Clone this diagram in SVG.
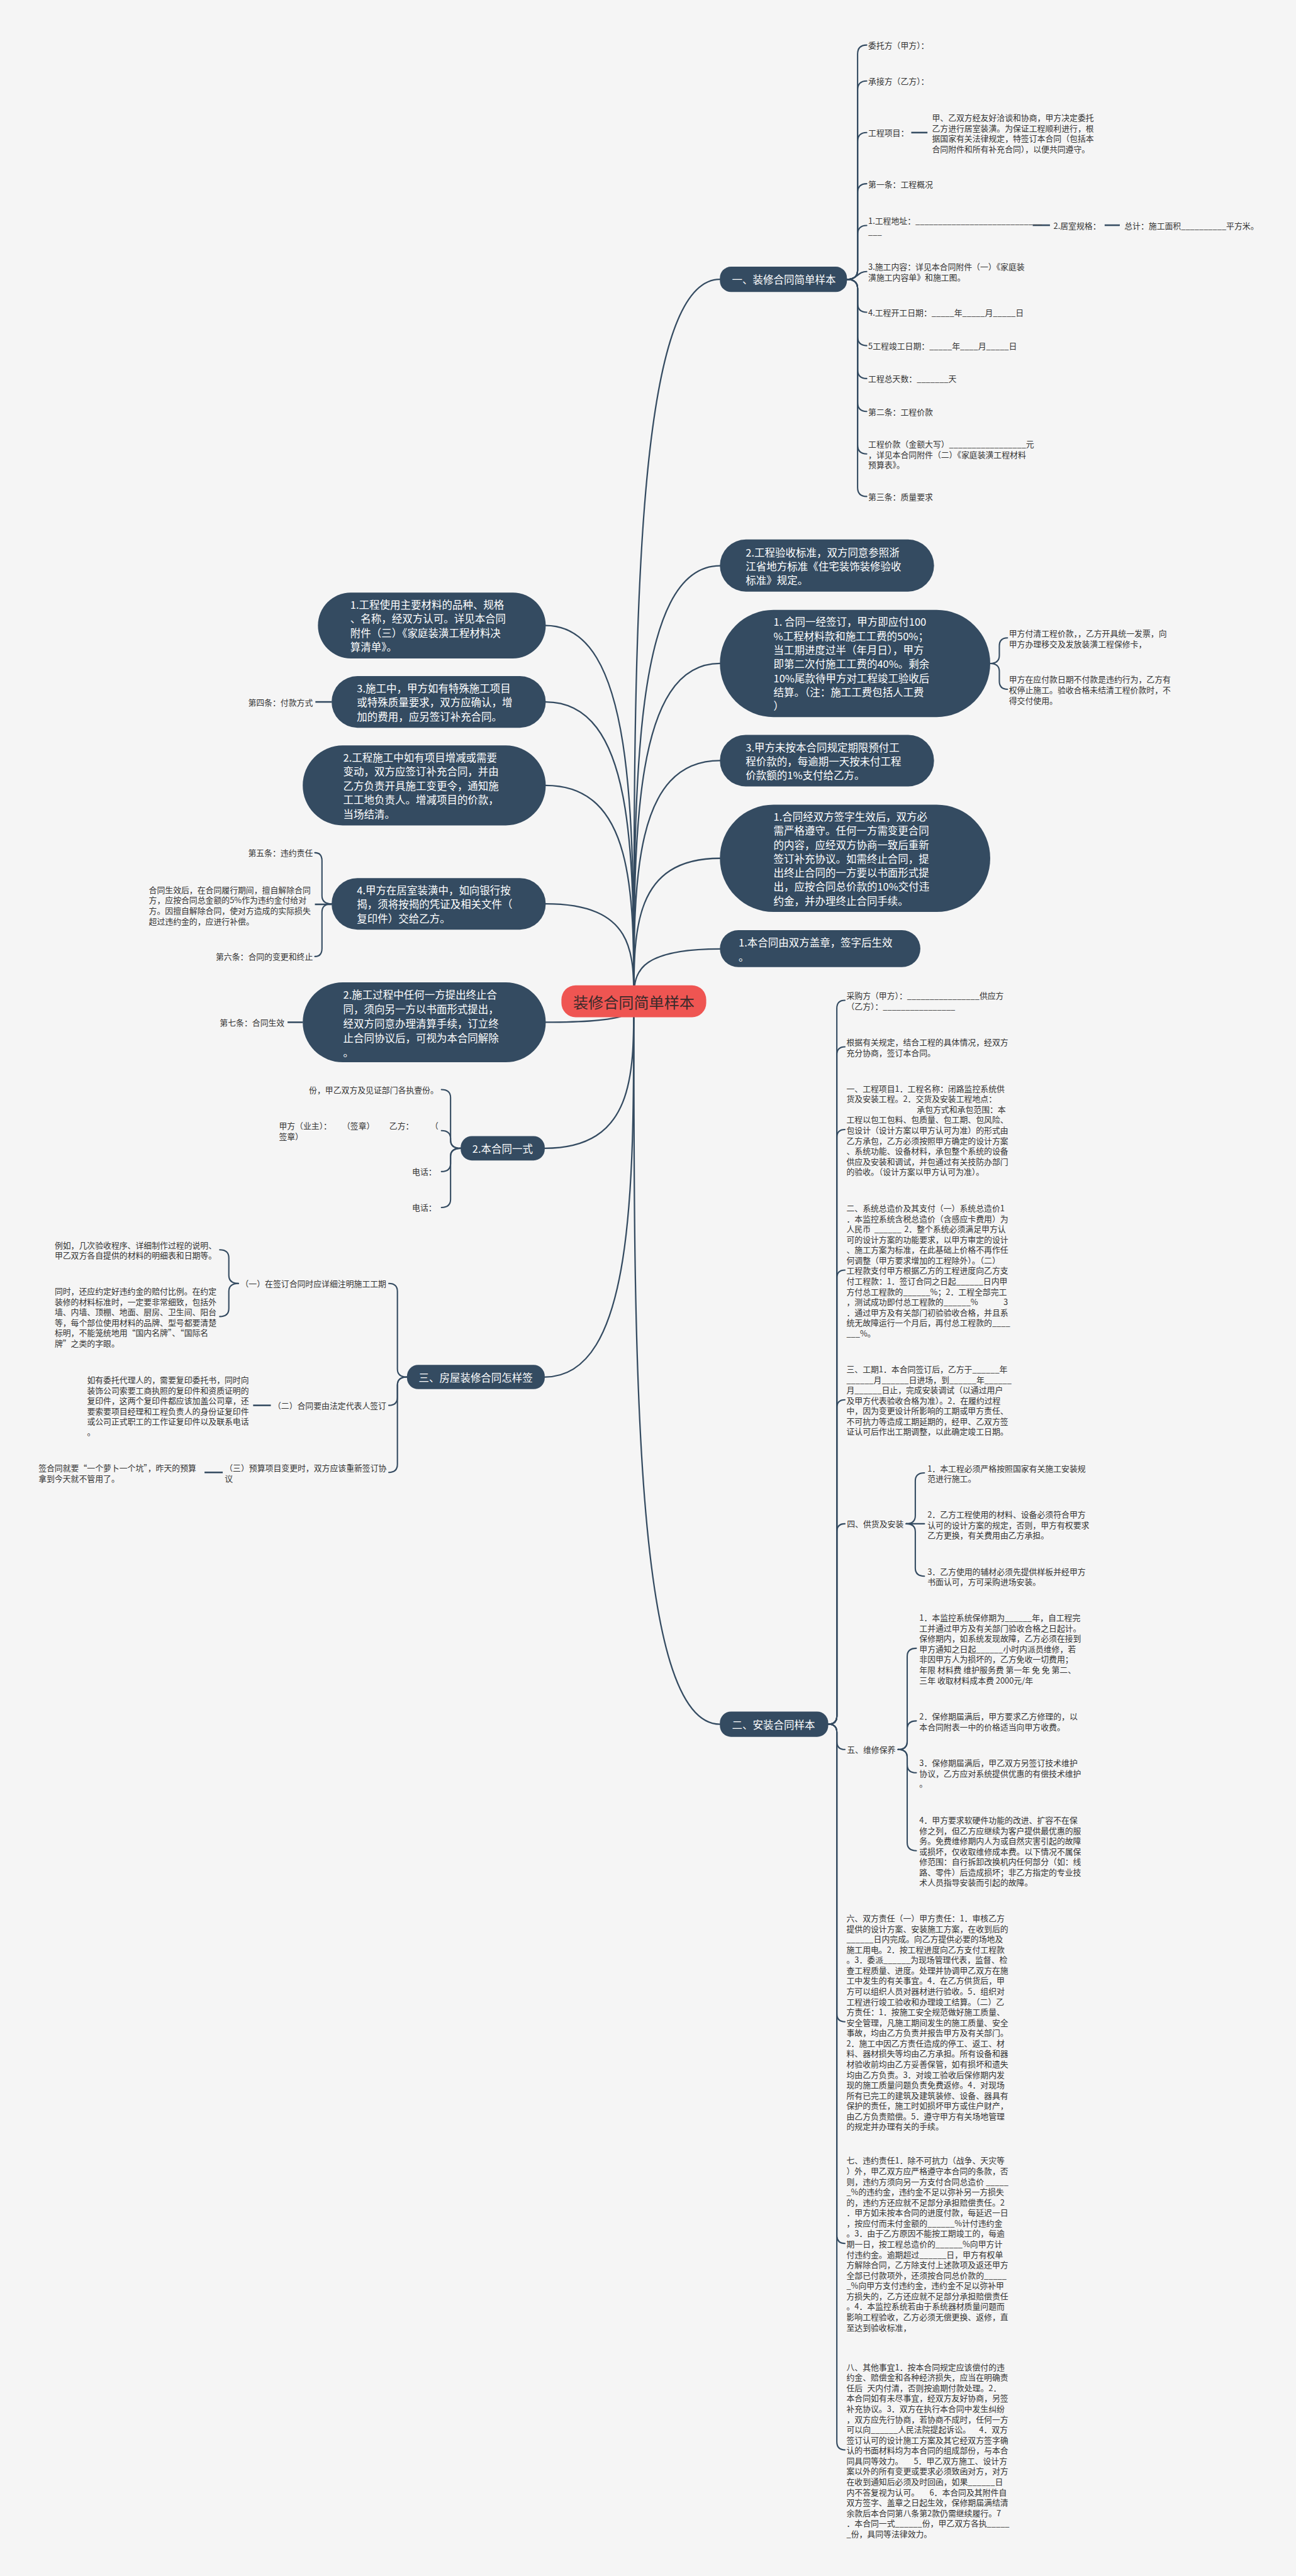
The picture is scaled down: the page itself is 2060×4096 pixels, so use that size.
<svg xmlns="http://www.w3.org/2000/svg" width="2060" height="4096" viewBox="0 0 2060 4096">
<style>
text{font-family:"Noto Sans CJK SC","Noto Sans",sans-serif;dominant-baseline:central}
.bg{fill:#f5f5f5}
.n{fill:#344b61}
.root{fill:#ef5552}
.rt{fill:#3a2a2a;font-size:30px}
.nt{fill:#ffffff;font-size:20.5px}
.t{fill:#333333;font-size:16px}
.c{fill:none;stroke:#344b61;stroke-width:2.8;stroke-linecap:round}
.s{fill:none;stroke:#344b61;stroke-width:2.6;stroke-linecap:round}
.st{fill:none;stroke:#344b61;stroke-width:3.2}
</style>
<rect class="bg" x="0" y="0" width="2060" height="4096"/>
<g transform="scale(0.8046875)">
<g id="connectors">
<path class="c" d="M1252,1979 C1252,1265.5 1252,552 1422,552"/>
<path class="c" d="M1252,1979 C1252,1548.5 1252,1118 1422,1118"/>
<path class="c" d="M1252,1979 C1252,1645 1252,1311 1422,1311"/>
<path class="c" d="M1252,1979 C1252,1741 1252,1503 1422,1503"/>
<path class="c" d="M1252,1979 C1252,1837.5 1252,1696 1422,1696"/>
<path class="c" d="M1252,1979 C1252,1927 1252,1875 1422,1875"/>
<path class="c" d="M1252,1979 C1252,2693 1252,3407 1422,3407"/>
<path class="c" d="M1252,1979 C1252,1607.5 1252,1236 1078,1236"/>
<path class="c" d="M1252,1979 C1252,1683 1252,1387 1078,1387"/>
<path class="c" d="M1252,1979 C1252,1765.5 1252,1552 1078,1552"/>
<path class="c" d="M1252,1979 C1252,1882.5 1252,1786 1078,1786"/>
<path class="c" d="M1252,1979 C1252,1999.5 1252,2020 1078,2020"/>
<path class="c" d="M1252,1979 C1252,2124 1252,2269 1076,2269"/>
<path class="c" d="M1252,1979 C1252,2350 1252,2721 1076,2721"/>
<!-- 一 children -->
<path class="s" d="M1673,552 Q1694,552 1694,534 L1694,107 Q1694,89 1712,89"/>
<path class="s" d="M1673,552 Q1694,552 1694,534 L1694,178 Q1694,160 1712,160"/>
<path class="s" d="M1673,552 Q1694,552 1694,534 L1694,280 Q1694,262 1712,262"/>
<path class="s" d="M1673,552 Q1694,552 1694,534 L1694,381 Q1694,363 1712,363"/>
<path class="s" d="M1673,552 Q1694,552 1694,534 L1694,463.5 Q1694,445.5 1712,445.5"/>
<path class="s" d="M1673,552 C1694,552 1694,536.5 1712,536.5"/>
<path class="s" d="M1673,552 Q1694,552 1694,570 L1694,599 Q1694,617 1712,617"/>
<path class="s" d="M1673,552 Q1694,552 1694,570 L1694,665 Q1694,683 1712,683"/>
<path class="s" d="M1673,552 Q1694,552 1694,570 L1694,730 Q1694,748 1712,748"/>
<path class="s" d="M1673,552 Q1694,552 1694,570 L1694,795 Q1694,813 1712,813"/>
<path class="s" d="M1673,552 Q1694,552 1694,570 L1694,879 Q1694,897 1712,897"/>
<path class="s" d="M1673,552 Q1694,552 1694,570 L1694,963 Q1694,981 1712,981"/>
<path class="st" d="M1800,262 H1832"/>
<path class="st" d="M2040,445 H2074"/>
<path class="st" d="M2182,445 H2212"/>
<!-- R1 children -->
<path class="s" d="M1956,1311 Q1974,1311 1974,1295 L1974,1276.5 Q1974,1260.5 1990,1260.5"/>
<path class="s" d="M1956,1311 Q1974,1311 1974,1327 L1974,1346 Q1974,1362 1990,1362"/>
<!-- 二 children -->
<path class="s" d="M1636,3407 Q1653,3407 1653,3391 L1653,1992.5 Q1653,1976.5 1669,1976.5"/>
<path class="s" d="M1636,3407 Q1653,3407 1653,3391 L1653,2084.5 Q1653,2068.5 1669,2068.5"/>
<path class="s" d="M1636,3407 Q1653,3407 1653,3391 L1653,2248 Q1653,2232 1669,2232"/>
<path class="s" d="M1636,3407 Q1653,3407 1653,3391 L1653,2525.6 Q1653,2509.6 1669,2509.6"/>
<path class="s" d="M1636,3407 Q1653,3407 1653,3391 L1653,2782 Q1653,2766 1669,2766"/>
<path class="s" d="M1636,3407 Q1653,3407 1653,3391 L1653,3027 Q1653,3011 1669,3011"/>
<path class="s" d="M1636,3407 Q1653,3407 1653,3423 L1653,3441 Q1653,3457 1669,3457"/>
<path class="s" d="M1636,3407 Q1653,3407 1653,3423 L1653,3979 Q1653,3995 1669,3995"/>
<path class="s" d="M1636,3407 Q1653,3407 1653,3423 L1653,4417 Q1653,4433 1669,4433"/>
<path class="s" d="M1636,3407 Q1653,3407 1653,3423 L1653,4825 Q1653,4841 1669,4841"/>
<!-- 四 children -->
<path class="s" d="M1790,3011 Q1808,3011 1808,2995 L1808,2926.5 Q1808,2910.5 1826,2910.5"/>
<path class="s" d="M1790,3011 H1826"/>
<path class="s" d="M1790,3011 Q1808,3011 1808,3027 L1808,3098.5 Q1808,3114.5 1826,3114.5"/>
<!-- 五 children -->
<path class="s" d="M1774,3457 Q1792,3457 1792,3441 L1792,3273 Q1792,3257 1810,3257"/>
<path class="s" d="M1774,3457 Q1792,3457 1792,3441 L1792,3416.5 Q1792,3400.5 1810,3400.5"/>
<path class="s" d="M1774,3457 Q1792,3457 1792,3473 L1792,3487 Q1792,3503 1810,3503"/>
<path class="s" d="M1774,3457 Q1792,3457 1792,3473 L1792,3641 Q1792,3657 1810,3657"/>
<!-- L4 children -->
<path class="s" d="M655,1786 Q636,1786 636,1770 L636,1701 Q636,1685 622,1685"/>
<path class="st" d="M655,1787 H622"/>
<path class="s" d="M655,1786 Q636,1786 636,1802 L636,1874 Q636,1890 622,1890"/>
<path class="st" d="M655,1387 H623"/>
<path class="st" d="M598,2020 H568"/>
<!-- 本合同一式 children -->
<path class="s" d="M910,2269 Q890,2269 890,2253 L890,2169 Q890,2153 872,2153"/>
<path class="s" d="M910,2269 Q890,2269 890,2253 L890,2250 Q890,2234 872,2234"/>
<path class="s" d="M910,2269 Q890,2269 890,2285 L890,2299 Q890,2315 872,2315"/>
<path class="s" d="M910,2269 Q890,2269 890,2285 L890,2370 Q890,2386 872,2386"/>
<!-- 三 children -->
<path class="s" d="M804,2721 Q785,2721 785,2705 L785,2552 Q785,2536 768,2536"/>
<path class="s" d="M804,2721 Q785,2721 785,2737 L785,2761 Q785,2777 768,2777"/>
<path class="s" d="M804,2721 Q785,2721 785,2737 L785,2893.5 Q785,2909.5 768,2909.5"/>
<path class="s" d="M471,2536 Q452,2536 452,2520 L452,2485.5 Q452,2469.5 434,2469.5"/>
<path class="s" d="M471,2536 Q452,2536 452,2552 L452,2585.5 Q452,2601.5 434,2601.5"/>
<path class="st" d="M535,2777 H500"/>
<path class="st" d="M440,2909.5 H404"/>
</g>

<g id="n-root">
<rect class="root" x="1109" y="1947" width="286" height="63" rx="28"/>
<text class="rt" x="1252" y="1979" text-anchor="middle">装修合同简单样本</text>
</g>

<g id="n-yi">
<rect class="n" x="1422" y="527" width="251" height="50" rx="22"/>
<text class="nt" x="1446" y="552">一、装修合同简单样本</text>
</g>
<g id="n-er">
<rect class="n" x="1422" y="3382" width="214" height="50" rx="22"/>
<text class="nt" x="1446" y="3407">二、安装合同样本</text>
</g>
<g id="n-san">
<rect class="n" x="804" y="2697" width="272" height="48" rx="22"/>
<text class="nt" x="827" y="2721">三、房屋装修合同怎样签</text>
</g>
<g id="n-yishi">
<rect class="n" x="910" y="2245" width="166" height="48" rx="22"/>
<text class="nt" x="933" y="2269">2.本合同一式</text>
</g>

<g id="n-r2">
<rect class="n" x="1422" y="1066" width="423" height="103" rx="51.5"/>
<text class="nt" x="1473" y="1091"><tspan x="1473">2.工程验收标准，双方同意参照浙</tspan><tspan x="1473" dy="27.5">江省地方标准《住宅装饰装修验收</tspan><tspan x="1473" dy="27.5">标准》规定。</tspan></text>
</g>
<g id="n-r1">
<rect class="n" x="1422" y="1205" width="534" height="212" rx="106"/>
<text class="nt" x="1528" y="1228"><tspan x="1528">1. 合同一经签订，甲方即应付100</tspan><tspan x="1528" dy="27.8">%工程材料款和施工工费的50%；</tspan><tspan x="1528" dy="27.8">当工期进度过半（年月日），甲方</tspan><tspan x="1528" dy="27.8">即第二次付施工工费的40%。剩余</tspan><tspan x="1528" dy="27.8">10%尾款待甲方对工程竣工验收后</tspan><tspan x="1528" dy="27.8">结算。（注：施工工费包括人工费</tspan><tspan x="1528" dy="27.8">）</tspan></text>
</g>
<g id="n-r3">
<rect class="n" x="1422" y="1452" width="423" height="102" rx="51"/>
<text class="nt" x="1473" y="1476"><tspan x="1473">3.甲方未按本合同规定期限预付工</tspan><tspan x="1473" dy="27.8">程价款的，每逾期一天按未付工程</tspan><tspan x="1473" dy="27.8">价款额的1%支付给乙方。</tspan></text>
</g>
<g id="n-r4">
<rect class="n" x="1422" y="1590" width="534" height="212" rx="106"/>
<text class="nt" x="1528" y="1613"><tspan x="1528">1.合同经双方签字生效后，双方必</tspan><tspan x="1528" dy="27.7">需严格遵守。任何一方需变更合同</tspan><tspan x="1528" dy="27.7">的内容，应经双方协商一致后重新</tspan><tspan x="1528" dy="27.7">签订补充协议。如需终止合同，提</tspan><tspan x="1528" dy="27.7">出终止合同的一方要以书面形式提</tspan><tspan x="1528" dy="27.7">出，应按合同总价款的10%交付违</tspan><tspan x="1528" dy="27.7">约金，并办理终止合同手续。</tspan></text>
</g>
<g id="n-r5">
<rect class="n" x="1422" y="1838" width="396" height="73" rx="36.5"/>
<text class="nt" x="1459" y="1862"><tspan x="1459">1.本合同由双方盖章，签字后生效</tspan><tspan x="1459" dy="28">。</tspan></text>
</g>

<g id="n-l1">
<rect class="n" x="628" y="1171" width="450" height="130" rx="65"/>
<text class="nt" x="692" y="1194"><tspan x="692">1.工程使用主要材料的品种、规格</tspan><tspan x="692" dy="28">、名称，经双方认可。详见本合同</tspan><tspan x="692" dy="28">附件（三）《家庭装潢工程材料决</tspan><tspan x="692" dy="28">算清单》。</tspan></text>
</g>
<g id="n-l3">
<rect class="n" x="655" y="1336" width="423" height="102" rx="51"/>
<text class="nt" x="705" y="1359"><tspan x="705">3.施工中，甲方如有特殊施工项目</tspan><tspan x="705" dy="28">或特殊质量要求，双方应确认，增</tspan><tspan x="705" dy="28">加的费用，应另签订补充合同。</tspan></text>
</g>
<g id="n-l2">
<rect class="n" x="598" y="1473" width="480" height="158" rx="79"/>
<text class="nt" x="678" y="1496"><tspan x="678">2.工程施工中如有项目增减或需要</tspan><tspan x="678" dy="28">变动，双方应签订补充合同，并由</tspan><tspan x="678" dy="28">乙方负责开具施工变更令，通知施</tspan><tspan x="678" dy="28">工工地负责人。增减项目的价款，</tspan><tspan x="678" dy="28">当场结清。</tspan></text>
</g>
<g id="n-l4">
<rect class="n" x="655" y="1735" width="423" height="102" rx="51"/>
<text class="nt" x="705" y="1758"><tspan x="705">4.甲方在居室装潢中，如向银行按</tspan><tspan x="705" dy="28">揭，须将按揭的凭证及相关文件（</tspan><tspan x="705" dy="28">复印件）交给乙方。</tspan></text>
</g>
<g id="n-l5">
<rect class="n" x="598" y="1941" width="480" height="158" rx="79"/>
<text class="nt" x="678" y="1965"><tspan x="678">2.施工过程中任何一方提出终止合</tspan><tspan x="678" dy="28.5">同，须向另一方以书面形式提出，</tspan><tspan x="678" dy="28.5">经双方同意办理清算手续，订立终</tspan><tspan x="678" dy="28.5">止合同协议后，可视为本合同解除</tspan><tspan x="678" dy="28.5">。</tspan></text>
</g>

<!-- leaves: 一 -->
<g id="t-yi">
<text class="t" x="1715" y="89">委托方（甲方）：</text>
<text class="t" x="1715" y="160">承接方（乙方）：</text>
<text class="t" x="1715" y="262">工程项目：</text>
<text class="t" x="1841" y="231.1"><tspan x="1841">甲、乙双方经友好洽谈和协商，甲方决定委托</tspan><tspan x="1841" dy="20.6">乙方进行居室装潢。为保证工程顺利进行，根</tspan><tspan x="1841" dy="20.6">据国家有关法律规定，特签订本合同（包括本</tspan><tspan x="1841" dy="20.6">合同附件和所有补充合同），以便共同遵守。</tspan></text>
<text class="t" x="1715" y="363">第一条：工程概况</text>
<text class="t" x="1715" y="435.2"><tspan x="1715">1.工程地址：____________________________</tspan><tspan x="1715" dy="20.6">___</tspan></text>
<text class="t" x="2081" y="445">2.居室规格：</text>
<text class="t" x="2221" y="445">总计：施工面积__________平方米。</text>
<text class="t" x="1715" y="526.2"><tspan x="1715">3.施工内容：详见本合同附件（一）《家庭装</tspan><tspan x="1715" dy="20.6">潢施工内容单》和施工图。</tspan></text>
<text class="t" x="1715" y="617">4.工程开工日期：_____年_____月_____日</text>
<text class="t" x="1715" y="683">5工程竣工日期：_____年____月_____日</text>
<text class="t" x="1715" y="748">工程总天数：_______天</text>
<text class="t" x="1715" y="813">第二条：工程价款</text>
<text class="t" x="1715" y="876.4"><tspan x="1715">工程价款（金额大写）_________________元</tspan><tspan x="1715" dy="20.6">，详见本合同附件（二）《家庭装潢工程材料</tspan><tspan x="1715" dy="20.6">预算表》。</tspan></text>
<text class="t" x="1715" y="981">第三条：质量要求</text>
</g>

<g id="t-r1">
<text class="t" x="1993" y="1250.2"><tspan x="1993">甲方付清工程价款，，乙方开具统一发票，向</tspan><tspan x="1993" dy="20.6">甲方办理移交及发放装潢工程保修卡，</tspan></text>
<text class="t" x="1993" y="1341.4"><tspan x="1993">甲方在应付款日期不付款是违约行为，乙方有</tspan><tspan x="1993" dy="20.6">权停止施工。验收合格未结清工程价款时，不</tspan><tspan x="1993" dy="20.6">得交付使用。</tspan></text>
</g>

<g id="t-left">
<text class="t" x="618" y="1387" text-anchor="end">第四条：付款方式</text>
<text class="t" x="618" y="1685" text-anchor="end">第五条：违约责任</text>
<text class="t" x="294" y="1757.1"><tspan x="294">合同生效后，在合同履行期间，擅自解除合同</tspan><tspan x="294" dy="20.6">方，应按合同总金额的5%作为违约金付给对</tspan><tspan x="294" dy="20.6">方。因擅自解除合同，使对方造成的实际损失</tspan><tspan x="294" dy="20.6">超过违约金的，应进行补偿。</tspan></text>
<text class="t" x="618" y="1890" text-anchor="end">第六条：合同的变更和终止</text>
<text class="t" x="562" y="2020" text-anchor="end">第七条：合同生效</text>
</g>

<g id="t-yishi">
<text class="t" x="866" y="2153" text-anchor="end">份，甲乙双方及见证部门各执壹份。</text>
<text class="t" x="551" y="2223.7"><tspan x="551">甲方（业主）：</tspan><tspan x="676">（签章）</tspan><tspan x="769">乙方：</tspan><tspan x="850">（</tspan><tspan x="551" dy="20.6">签章）</tspan></text>
<text class="t" x="862" y="2315" text-anchor="end">电话：</text>
<text class="t" x="862" y="2386" text-anchor="end">电话：</text>
</g>

<g id="t-san">
<text class="t" x="763" y="2536" text-anchor="end">（一）在签订合同时应详细注明施工工期</text>
<text class="t" x="108" y="2459.2"><tspan x="108">例如，几次验收程序、详细制作过程的说明、</tspan><tspan x="108" dy="20.6">甲乙双方各自提供的材料的明细表和日期等。</tspan></text>
<text class="t" x="108" y="2550"><tspan x="108">同时，还应约定好违约金的赔付比例。在约定</tspan><tspan x="108" dy="20.6">装修的材料标准时，一定要非常细致，包括外</tspan><tspan x="108" dy="20.6">墙、内墙、顶棚、地面、厨房、卫生间、阳台</tspan><tspan x="108" dy="20.6">等，每个部位使用材料的品牌、型号都要清楚</tspan><tspan x="108" dy="20.6">标明，不能笼统地用“国内名牌”、“国际名</tspan><tspan x="108" dy="20.6">牌”之类的字眼。</tspan></text>
<text class="t" x="763" y="2777" text-anchor="end">（二）合同要由法定代表人签订</text>
<text class="t" x="172" y="2725.5"><tspan x="172">如有委托代理人的，需要复印委托书，同时向</tspan><tspan x="172" dy="20.6">装饰公司索要工商执照的复印件和资质证明的</tspan><tspan x="172" dy="20.6">复印件，这两个复印件都应该加盖公司章，还</tspan><tspan x="172" dy="20.6">要索要项目经理和工程负责人的身份证复印件</tspan><tspan x="172" dy="20.6">或公司正式职工的工作证复印件以及联系电话</tspan><tspan x="172" dy="20.6">。</tspan></text>
<text class="t" x="444" y="2899.2"><tspan x="444">（三）预算项目变更时，双方应该重新签订协</tspan><tspan x="444" dy="20.6">议</tspan></text>
<text class="t" x="76" y="2899.2"><tspan x="76">签合同就要“一个萝卜一个坑”，昨天的预算</tspan><tspan x="76" dy="20.6">拿到今天就不管用了。</tspan></text>
</g>

<g id="t-er">
<text class="t" x="1672" y="1966.2"><tspan x="1672">采购方（甲方）：________________供应方</tspan><tspan x="1672" dy="20.6">（乙方）：________________</tspan></text>
<text class="t" x="1672" y="2058.2"><tspan x="1672">根据有关规定，结合工程的具体情况，经双方</tspan><tspan x="1672" dy="20.6">充分协商，签订本合同。</tspan></text>
<text class="t" x="1672" y="2149.6"><tspan x="1672">一、工程项目1．工程名称：闭路监控系统供</tspan><tspan x="1672" dy="20.6">货及安装工程。2．交货及安装工程地点：</tspan><tspan x="1811" dy="20.6">承包方式和承包范围：本</tspan><tspan x="1672" dy="20.6">工程以包工包料、包质量、包工期、包风险、</tspan><tspan x="1672" dy="20.6">包设计（设计方案以甲方认可为准）的形式由</tspan><tspan x="1672" dy="20.6">乙方承包，乙方必须按照甲方确定的设计方案</tspan><tspan x="1672" dy="20.6">、系统功能、设备材料，承包整个系统的设备</tspan><tspan x="1672" dy="20.6">供应及安装和调试，并包通过有关技防办部门</tspan><tspan x="1672" dy="20.6">的验收。（设计方案以甲方认可为准）。</tspan></text>
<text class="t" x="1672" y="2386"><tspan x="1672">二、系统总造价及其支付（一）系统总造价1</tspan><tspan x="1672" dy="20.6">．本监控系统含税总造价（含感应卡费用）为</tspan><tspan x="1672" dy="20.6">人民币</tspan><tspan x="1727">______</tspan><tspan x="1786">2．整个系统必须满足甲方认</tspan><tspan x="1672" dy="20.6">可的设计方案的功能要求，以甲方审定的设计</tspan><tspan x="1672" dy="20.6">、施工方案为标准，在此基础上价格不再作任</tspan><tspan x="1672" dy="20.6">何调整（甲方要求增加的工程除外）。（二）</tspan><tspan x="1672" dy="20.6">工程款支付甲方根据乙方的工程进度向乙方支</tspan><tspan x="1672" dy="20.6">付工程款：1．签订合同之日起______日内甲</tspan><tspan x="1672" dy="20.6">方付总工程款的______%；2．工程全部完工</tspan><tspan x="1672" dy="20.6">，测试成功即付总工程款的______%</tspan><tspan x="1982">3</tspan><tspan x="1672" dy="20.6">．通过甲方及有关部门初验验收合格，并且系</tspan><tspan x="1672" dy="20.6">统无故障运行一个月后，再付总工程款的____</tspan><tspan x="1672" dy="20.6">___%。</tspan></text>
<text class="t" x="1672" y="2704.2"><tspan x="1672">三、工期1．本合同签订后，乙方于______年</tspan><tspan x="1672" dy="20.6">______月______日进场，到______年______</tspan><tspan x="1672" dy="20.6">月______日止，完成安装调试（以通过用户</tspan><tspan x="1672" dy="20.6">及甲方代表验收合格为准）。2．在履约过程</tspan><tspan x="1672" dy="20.6">中，因为变更设计所影响的工期或甲方责任、</tspan><tspan x="1672" dy="20.6">不可抗力等造成工期延期的，经甲、乙双方签</tspan><tspan x="1672" dy="20.6">证认可后作出工期调整，以此确定竣工日期。</tspan></text>
<text class="t" x="1673" y="3011">四、供货及安装</text>
<text class="t" x="1832" y="2900.2"><tspan x="1832">1．本工程必须严格按照国家有关施工安装规</tspan><tspan x="1832" dy="20.6">范进行施工。</tspan></text>
<text class="t" x="1832" y="2991.4"><tspan x="1832">2．乙方工程使用的材料、设备必须符合甲方</tspan><tspan x="1832" dy="20.6">认可的设计方案的规定，否则，甲方有权要求</tspan><tspan x="1832" dy="20.6">乙方更换，有关费用由乙方承担。</tspan></text>
<text class="t" x="1832" y="3104.2"><tspan x="1832">3．乙方使用的辅材必须先提供样板并经甲方</tspan><tspan x="1832" dy="20.6">书面认可，方可采购进场安装。</tspan></text>
<text class="t" x="1673" y="3457">五、维修保养</text>
<text class="t" x="1816" y="3195.2"><tspan x="1816">1．本监控系统保修期为______年，自工程完</tspan><tspan x="1816" dy="20.6">工并通过甲方及有关部门验收合格之日起计。</tspan><tspan x="1816" dy="20.6">保修期内，如系统发现故障，乙方必须在接到</tspan><tspan x="1816" dy="20.6">甲方通知之日起______小时内派员维修，若</tspan><tspan x="1816" dy="20.6">非因甲方人为损坏的，乙方免收一切费用；</tspan><tspan x="1816" dy="20.6">年限 材料费 维护服务费 第一年 免 免 第二、</tspan><tspan x="1816" dy="20.6">三年 收取材料成本费 2000元/年</tspan></text>
<text class="t" x="1816" y="3390.2"><tspan x="1816">2．保修期届满后，甲方要求乙方修理的，以</tspan><tspan x="1816" dy="20.6">本合同附表一中的价格适当向甲方收费。</tspan></text>
<text class="t" x="1816" y="3482.4"><tspan x="1816">3．保修期届满后，甲乙双方另签订技术维护</tspan><tspan x="1816" dy="20.6">协议，乙方应对系统提供优惠的有偿技术维护</tspan><tspan x="1816" dy="20.6">。</tspan></text>
<text class="t" x="1816" y="3595.2"><tspan x="1816">4．甲方要求软硬件功能的改进、扩容不在保</tspan><tspan x="1816" dy="20.6">修之列，但乙方应继续为客户提供最优惠的服</tspan><tspan x="1816" dy="20.6">务。免费维修期内人为或自然灾害引起的故障</tspan><tspan x="1816" dy="20.6">或损坏，仅收取维修成本费。以下情况不属保</tspan><tspan x="1816" dy="20.6">修范围：自行拆卸改换机内任何部分（如：线</tspan><tspan x="1816" dy="20.6">路、零件）后造成损坏；非乙方指定的专业技</tspan><tspan x="1816" dy="20.6">术人员指导安装而引起的故障。</tspan></text>
<text class="t" x="1672" y="3789"><tspan x="1672">六、双方责任（一）甲方责任：1．审核乙方</tspan><tspan x="1672" dy="20.6">提供的设计方案、安装施工方案，在收到后的</tspan><tspan x="1672" dy="20.6">______日内完成。向乙方提供必要的场地及</tspan><tspan x="1672" dy="20.6">施工用电。2．按工程进度向乙方支付工程款</tspan><tspan x="1672" dy="20.6">。3．委派______为现场管理代表，监督、检</tspan><tspan x="1672" dy="20.6">查工程质量、进度。处理并协调甲乙双方在施</tspan><tspan x="1672" dy="20.6">工中发生的有关事宜。4．在乙方供货后，甲</tspan><tspan x="1672" dy="20.6">方可以组织人员对器材进行验收。5．组织对</tspan><tspan x="1672" dy="20.6">工程进行竣工验收和办理竣工结算。（二）乙</tspan><tspan x="1672" dy="20.6">方责任：1．按施工安全规范做好施工质量、</tspan><tspan x="1672" dy="20.6">安全管理，凡施工期间发生的施工质量、安全</tspan><tspan x="1672" dy="20.6">事故，均由乙方负责并报告甲方及有关部门。</tspan><tspan x="1672" dy="20.6">2．施工中因乙方责任造成的停工、返工、材</tspan><tspan x="1672" dy="20.6">料、器材损失等均由乙方承担。所有设备和器</tspan><tspan x="1672" dy="20.6">材验收前均由乙方妥善保管，如有损坏和遗失</tspan><tspan x="1672" dy="20.6">均由乙方负责。3．对竣工验收后保修期内发</tspan><tspan x="1672" dy="20.6">现的施工质量问题负责免费返修。4．对现场</tspan><tspan x="1672" dy="20.6">所有已完工的建筑及建筑装修、设备、器具有</tspan><tspan x="1672" dy="20.6">保护的责任，施工时如损坏甲方或住户财产，</tspan><tspan x="1672" dy="20.6">由乙方负责赔偿。5．遵守甲方有关场地管理</tspan><tspan x="1672" dy="20.6">的规定并办理有关的手续。</tspan></text>
<text class="t" x="1672" y="4268"><tspan x="1672">七、违约责任1．除不可抗力（战争、天灾等</tspan><tspan x="1672" dy="20.6">）外，甲乙双方应严格遵守本合同的条款，否</tspan><tspan x="1672" dy="20.6">则，违约方须向另一方支付合同总造价 _____</tspan><tspan x="1672" dy="20.6">_%的违约金，违约金不足以弥补另一方损失</tspan><tspan x="1672" dy="20.6">的，违约方还应就不足部分承担赔偿责任。2</tspan><tspan x="1672" dy="20.6">．甲方如未按本合同的进度付款，每延迟一日</tspan><tspan x="1672" dy="20.6">，按应付而未付金额的______%计付违约金</tspan><tspan x="1672" dy="20.6">。3．由于乙方原因不能按工期竣工的，每逾</tspan><tspan x="1672" dy="20.6">期一日，按工程总造价的______%向甲方计</tspan><tspan x="1672" dy="20.6">付违约金。逾期超过______日，甲方有权单</tspan><tspan x="1672" dy="20.6">方解除合同，乙方除支付上述款项及返还甲方</tspan><tspan x="1672" dy="20.6">全部已付款项外，还须按合同总价款的_____</tspan><tspan x="1672" dy="20.6">_%向甲方支付违约金，违约金不足以弥补甲</tspan><tspan x="1672" dy="20.6">方损失的，乙方还应就不足部分承担赔偿责任</tspan><tspan x="1672" dy="20.6">。4．本监控系统若由于系统器材质量问题而</tspan><tspan x="1672" dy="20.6">影响工程验收，乙方必须无偿更换、返修，直</tspan><tspan x="1672" dy="20.6">至达到验收标准，</tspan></text>
<text class="t" x="1672" y="4676"><tspan x="1672">八、其他事宜1．按本合同规定应该偿付的违</tspan><tspan x="1672" dy="20.6">约金、赔偿金和各种经济损失，应当在明确责</tspan><tspan x="1672" dy="20.6">任后</tspan><tspan x="1713">天内付清，否则按逾期付款处理。2．</tspan><tspan x="1672" dy="20.6">本合同如有未尽事宜，经双方友好协商，另签</tspan><tspan x="1672" dy="20.6">补充协议。3．双方在执行本合同中发生纠纷</tspan><tspan x="1672" dy="20.6">，双方应先行协商，若协商不成时，任何一方</tspan><tspan x="1672" dy="20.6">可以向______人民法院提起诉讼。</tspan><tspan x="1934">4．双方</tspan><tspan x="1672" dy="20.6">签订认可的设计施工方案及其它经双方签字确</tspan><tspan x="1672" dy="20.6">认的书面材料均为本合同的组成部份，与本合</tspan><tspan x="1672" dy="20.6">同具同等效力。</tspan><tspan x="1805">5．甲乙双方施工、设计方</tspan><tspan x="1672" dy="20.6">案以外的所有变更或要求必须致函对方，对方</tspan><tspan x="1672" dy="20.6">在收到通知后必须及时回函，如果______日</tspan><tspan x="1672" dy="20.6">内不答复视为认可。</tspan><tspan x="1836">6．本合同及其附件自</tspan><tspan x="1672" dy="20.6">双方签字、盖章之日起生效，保修期届满结清</tspan><tspan x="1672" dy="20.6">余款后本合同第八条第2款仍需继续履行。7</tspan><tspan x="1672" dy="20.6">．本合同一式______份，甲乙双方各执_____</tspan><tspan x="1672" dy="20.6">_份，具同等法律效力。</tspan></text>
</g>
</g>
</svg>
